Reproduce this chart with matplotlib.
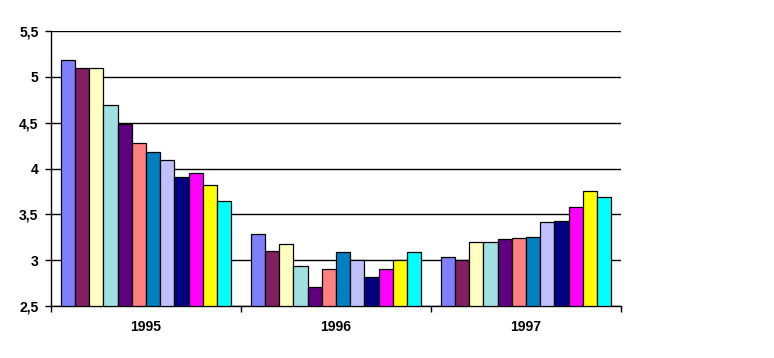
import numpy as np
import matplotlib
matplotlib.use("Agg")
import matplotlib.pyplot as plt
from matplotlib.ticker import FuncFormatter, FixedLocator

years = ["1995", "1996", "1997"]

s01 = [5.18, 3.29, 3.03]
s02 = [5.10, 3.10, 3.00]
s03 = [5.10, 3.18, 3.20]
s04 = [4.69, 2.94, 3.20]
s05 = [4.49, 2.71, 3.23]
s06 = [4.28, 2.90, 3.24]
s07 = [4.18, 3.09, 3.25]
s08 = [4.09, 3.00, 3.42]
s09 = [3.91, 2.82, 3.43]
s10 = [3.95, 2.90, 3.58]
s11 = [3.82, 3.00, 3.75]
s12 = [3.65, 3.09, 3.69]

series = [s01, s02, s03, s04, s05, s06, s07, s08, s09, s10, s11, s12]
colors = ["#8080FF", "#802060", "#FFFFC0", "#A0E0E0", "#600080", "#FF8080",
          "#0080C0", "#C0C0FF", "#000080", "#FF00FF", "#FFFF00", "#00FFFF"]

plt.rcParams['font.family'] = ['Liberation Sans', 'DejaVu Sans']

fig = plt.figure(figsize=(7.74, 3.58), dpi=100)
ax = fig.add_axes([51 / 774, 1 - 306 / 358, 570 / 774, 275 / 358])

n = len(series)
group = 0.895
w = group / n
x0 = np.arange(len(years)) + (1 - group) / 2
for i, vals in enumerate(series):
    ax.bar(x0 + i * w, np.array(vals) - 2.5, width=w, bottom=2.5, align='edge',
           color=colors[i], edgecolor='black', linewidth=0.9, zorder=3)

ax.set_xlim(0, len(years))
ax.set_ylim(2.5, 5.5)
ax.set_yticks(np.arange(2.5, 5.51, 0.5))
ax.yaxis.set_major_formatter(FuncFormatter(lambda v, p: ("%g" % v).replace(".", ",")))
ax.grid(axis='y', color='black', linewidth=1, zorder=1)

ax.xaxis.set_major_locator(FixedLocator(np.arange(len(years) + 1)))
ax.xaxis.set_major_formatter(plt.NullFormatter())
ax.set_xticks(np.arange(len(years)) + 0.5, minor=True)
ax.set_xticklabels(years, minor=True)
ax.tick_params(axis='x', which='minor', length=0, pad=10)
ax.tick_params(axis='x', which='major', length=4, width=1, color='black')
ax.tick_params(axis='y', length=4, width=1, pad=5)

for lab in ax.get_xticklabels(minor=True) + ax.get_yticklabels():
    lab.set_fontsize(10)
    lab.set_fontweight('bold')

for side in ['top', 'right']:
    ax.spines[side].set_visible(False)
ax.spines['left'].set_linewidth(1)
ax.spines['bottom'].set_linewidth(1)

fig.savefig("out.png", dpi=100)
